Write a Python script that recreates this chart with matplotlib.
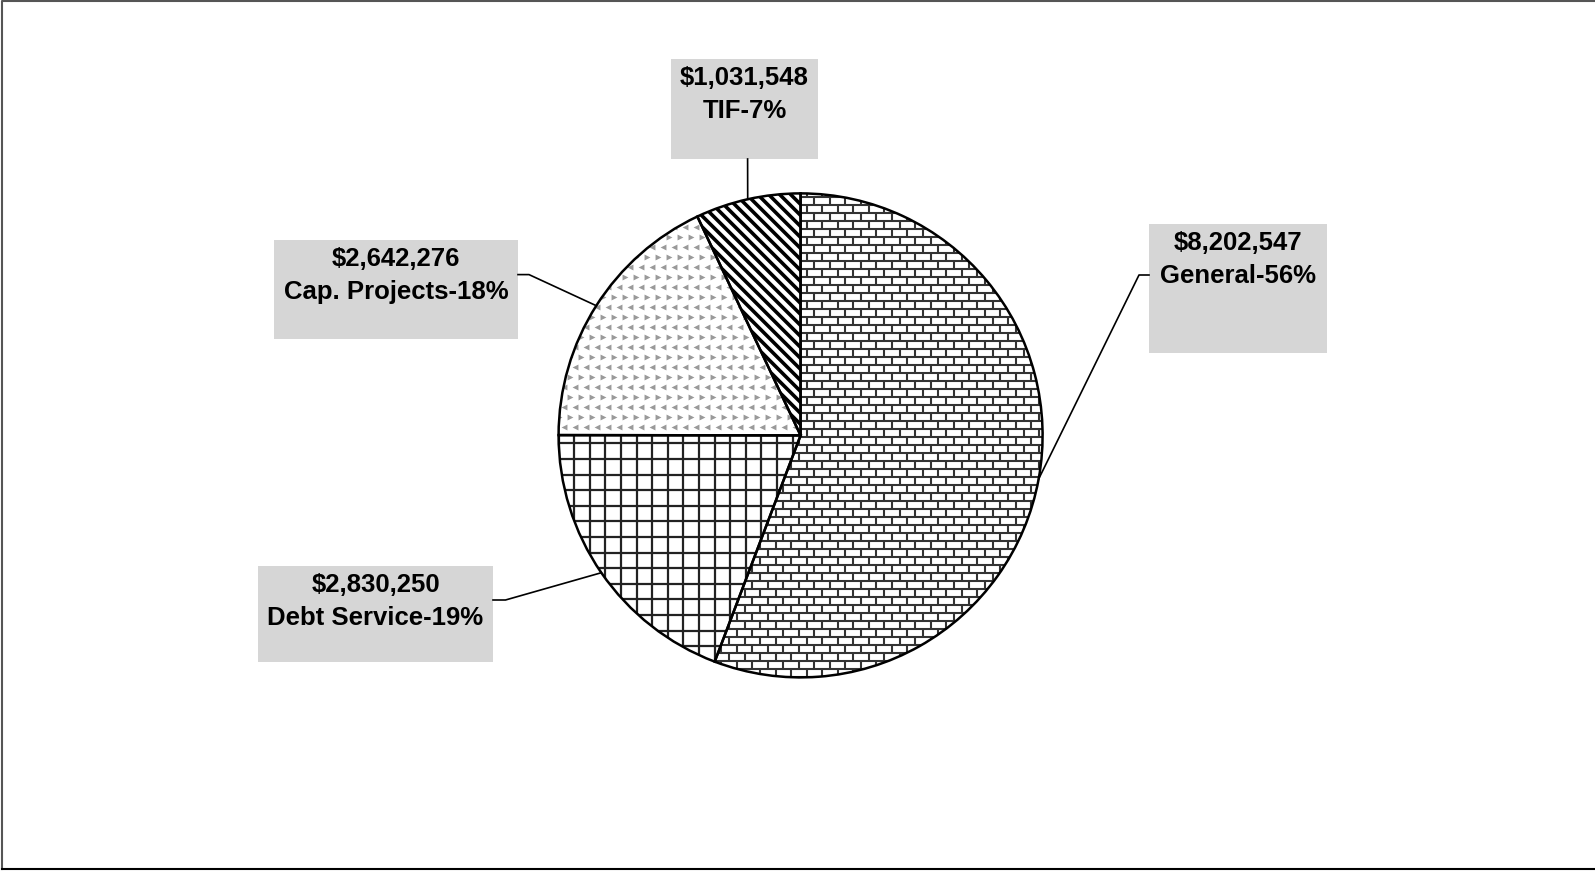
import numpy as np
import matplotlib
matplotlib.use('Agg')
import matplotlib.pyplot as plt
from matplotlib.collections import LineCollection
from matplotlib.patches import Rectangle

plt.rcParams['font.family'] = ['Liberation Sans', 'DejaVu Sans']

names = ['General', 'Debt Service', 'Cap. Projects', 'TIF']
amounts = [8202547, 2830250, 2642276, 1031548]

W, H = 1595, 871
fig = plt.figure(figsize=(W / 100, H / 100), dpi=100)
ax = fig.add_axes([0, 0, 1, 1])

cx, cy, r = 800.6, H - 435.4, 242
wedges, _ = ax.pie(amounts, startangle=90, counterclock=False, center=(cx, cy), radius=r,
                   wedgeprops=dict(facecolor='white', edgecolor='black', linewidth=1.8))
ax.set_xlim(0, W)
ax.set_ylim(0, H)
ax.set_aspect('auto')
ax.axis('off')

# fill patterns, clipped to each wedge
x0, x1, y0, y1 = cx - r, cx + r, cy - r, cy + r

# General: brick
segs = []
step_y, step_x = 8, 15.5
for i, y in enumerate(np.arange(y0, y1 + step_y, step_y)):
    segs.append([(x0, y), (x1, y)])
    off = 0 if i % 2 == 0 else step_x / 2
    for x in np.arange(x0 + off, x1, step_x):
        segs.append([(x, y), (x, y + step_y)])
lc = LineCollection(segs, colors='#333333', linewidths=1.5, zorder=3)
ax.add_collection(lc)
lc.set_clip_path(wedges[0])

# Debt Service: grid
segs = []
for x in np.arange(x0, x1, 15.6):
    segs.append([(x, y0), (x, y1)])
for y in np.arange(y0, y1, 15.6):
    segs.append([(x0, y), (x1, y)])
lc = LineCollection(segs, colors='#222222', linewidths=1.6, zorder=3)
ax.add_collection(lc)
lc.set_clip_path(wedges[1])

# Cap. Projects: gray chevrons
for i, y in enumerate(np.arange(y0, y1, 10)):
    off = 0 if i % 2 == 0 else 5.5
    xs = np.arange(x0 + off, x1, 11)
    pts = ax.scatter(xs, np.full_like(xs, y), marker='>' if i % 2 == 0 else '<',
                     s=18, color='#9a9a9a', linewidths=0, zorder=3)
    pts.set_clip_path(wedges[2])

# TIF: thick diagonal stripes
segs = []
for c in np.arange(-2 * r, 2 * r, 11):
    segs.append([(x0 + c - r, y1 + r), (x0 + c + 3 * r, y1 - 3 * r)])
lc = LineCollection(segs, colors='black', linewidths=2.6, zorder=3)
ax.add_collection(lc)
lc.set_clip_path(wedges[3])

# redraw outlines on top
for w in wedges:
    w.set_zorder(4)
    w.set_facecolor('none')

# label boxes (pixel coordinates from top-left: left, top, right, bottom)
boxes = [(1149, 224, 1327, 353), (258, 566, 493, 662), (274, 240, 518, 339), (671, 59, 818, 159)]
elbows = [(1139, 275), (505.5, 600), (529, 274.6), (747.6, 159)]
box_pts = [(1149, 275), (493, 600), (518, 274.6), (747.6, 159)]
total = sum(amounts)

for w, name, amt, b, el, bp in zip(wedges, names, amounts, boxes, elbows, box_pts):
    l, t, rr, bt = b
    ax.add_patch(Rectangle((l, H - bt), rr - l, bt - t, facecolor='#d6d6d6',
                           edgecolor='none', zorder=2))
    tx = (l + rr) / 2
    ax.text(tx, H - (t + 19), f'${amt:,}', ha='center', va='center',
            fontsize=18.5, fontweight='bold', zorder=5)
    ax.text(tx, H - (t + 52), f'{name}-{round(amt / total * 100)}%', ha='center', va='center',
            fontsize=18.5, fontweight='bold', zorder=5)
    mid = np.deg2rad((w.theta1 + w.theta2) / 2)
    ex, ey = cx + r * np.cos(mid), cy + r * np.sin(mid)
    ax.plot([bp[0], el[0], ex], [H - bp[1], H - el[1], ey], color='black', lw=1.2, zorder=5)

# frame on top, left and bottom
fig.add_artist(plt.Line2D([2 / W, 2 / W, 1], [2 / H, 1 - 1 / H, 1 - 1 / H], transform=fig.transFigure,
                          color='#555555', linewidth=1.5))
fig.add_artist(plt.Line2D([2 / W, 1], [2 / H, 2 / H], transform=fig.transFigure,
                          color='black', linewidth=1.5))

fig.savefig('out.png', dpi=100)
